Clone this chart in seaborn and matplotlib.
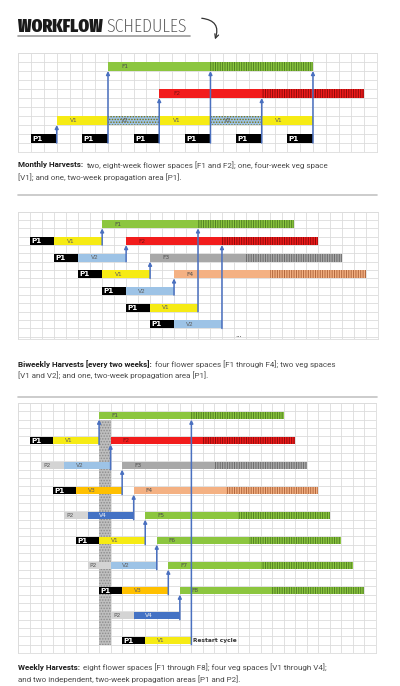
import os
import matplotlib
matplotlib.use("Agg")
import matplotlib.pyplot as plt
import seaborn as sns
from matplotlib import font_manager as fm
from matplotlib.patches import FancyArrowPatch
from matplotlib.lines import Line2D

# ---------------- data ----------------
FLOWER_WEEKS = 8
VEG_WEEKS = 4
PROP_WEEKS = 2

# monthly harvests
mon_flower = ["F1", "F2"]
mon_flower_row = [1, 4]
mon_flower_start = [7, 11]
mon_veg = ["V1", "V2", "V1", "V2", "V1"]
mon_veg_row = [7, 7, 7, 7, 7]
mon_veg_start = [3, 7, 11, 15, 19]
mon_veg_dotted = [False, True, False, True, False]
mon_prop = ["P1", "P1", "P1", "P1", "P1", "P1"]
mon_prop_row = [9, 9, 9, 9, 9, 9]
mon_prop_start = [1, 5, 9, 13, 17, 21]
mon_arrow_to = [7, 1, 4, 1, 4, 1]

# biweekly harvests
bi_flower = ["F1", "F2", "F3", "F4"]
bi_flower_row = [1, 3, 5, 7]
bi_flower_start = [7, 9, 11, 13]
bi_veg = ["V1", "V2", "V1", "V2", "V1", "V2"]
bi_veg_row = [3, 5, 7, 9, 11, 13]
bi_veg_start = [3, 5, 7, 9, 11, 13]
bi_prop = ["P1", "P1", "P1", "P1", "P1", "P1"]
bi_prop_start = [1, 3, 5, 7, 9, 11]
bi_arrow_to = [1, 3, 5, 7, 1, 3]

# weekly harvests
wk_flower = ["F1", "F2", "F3", "F4", "F5", "F6", "F7", "F8"]
wk_flower_row = [1, 4, 7, 10, 13, 16, 19, 22]
wk_flower_start = [7, 8, 9, 10, 11, 12, 13, 14]
wk_veg = ["V1", "V2", "V3", "V4", "V1", "V2", "V3", "V4", "V1"]
wk_veg_row = [4, 7, 10, 13, 16, 19, 22, 25, 28]
wk_veg_start = [3, 4, 5, 6, 7, 8, 9, 10, 11]
wk_prop = ["P1", "P2", "P1", "P2", "P1", "P2", "P1", "P2", "P1"]
wk_prop_start = [1, 2, 3, 4, 5, 6, 7, 8, 9]
wk_arrow_to = [1, 4, 7, 10, 13, 16, 19, 22, 1]
wk_hold_week = 7
wk_hold_rows = (2, 29)

cap_mon = ("Monthly Harvests:",
           "two, eight-week flower spaces [F1 and F2]; one, four-week veg space",
           "[V1]; and one, two-week propagation area [P1].")
cap_bi = ("Biweekly Harvests [every two weeks]:",
          "four flower spaces [F1 through F4]; two veg spaces",
          "[V1 and V2]; and one, two-week propagation area [P1].")
cap_wk = ("Weekly Harvests:",
          "eight flower spaces [F1 through F8]; four veg spaces [V1 through V4];",
          "and two independent, two-week propagation areas [P1 and P2].")

GREEN = "#8CC63F"
flower_color = {"F1": GREEN, "F2": "#F21C1C", "F3": "#A8A8A8", "F4": "#F4B183",
                "F5": GREEN, "F6": GREEN, "F7": GREEN, "F8": GREEN}
flower_hatch = {"F1": "#4F7F22", "F2": "#8E0A0A", "F3": "#6A6A6A", "F4": "#B0663C",
                "F5": "#4F7F22", "F6": "#4F7F22", "F7": "#4F7F22", "F8": "#4F7F22"}
veg_color = {"V1": "#F6EB14", "V2": "#9DC3E6", "V3": "#FFC000", "V4": "#4472C4"}
prop_color = {"P1": "#000000", "P2": "#D4D4D4"}
ARROW = "#4A70C0"
GRID = "#DCDCDC"

sns.set_theme(style="white")
plt.rcParams["hatch.linewidth"] = 0.7


def find_font(patterns, family="DejaVu Sans", weight="normal"):
    # first a proportional narrow face, then a mono one, then the plain family
    for allow_mono in (False, True):
        for pats in patterns:
            for f in fm.fontManager.ttflist:
                b = os.path.basename(f.fname).lower()
                if "mono" in b and not allow_mono:
                    continue
                if all(p in b for p in pats):
                    return fm.FontProperties(fname=f.fname)
    return fm.FontProperties(family=family, weight=weight)


heavy = find_font([("extracond", "black"), ("extracond", "extrabold"), ("cond", "black"),
                   ("narrow", "bold"), ("condensed-bold",), ("extracond", "bold")],
                  weight="bold")
thin = find_font([("extracond", "extralight"), ("extracond", "light"), ("cond", "light"),
                  ("narrow-regular",), ("condensed.ttf",)])
cap_reg = fm.FontProperties(family="Roboto")
cap_bold = fm.FontProperties(family="Roboto", weight="bold")

fig = plt.figure(figsize=(4, 6.86), dpi=100)
W, H = 400.0, 686.0
renderer = fig.canvas.get_renderer()


def px_box(x0, y0, x1, y1):
    return [x0 / W, 1 - y1 / H, (x1 - x0) / W, (y1 - y0) / H]


def text_width(text, fp, size):
    t = fig.text(0, 0, text, fontproperties=fp, fontsize=size)
    w = t.get_window_extent(renderer).width
    t.remove()
    return w


def setup_grid(ax, ncols, nrows):
    ax.set_xlim(0, ncols)
    ax.set_ylim(nrows, 0)
    ax.set_xticks(range(int(ncols) + 1))
    ax.set_yticks(range(int(nrows) + 1))
    ax.tick_params(length=0, labelbottom=False, labelleft=False)
    ax.grid(True, color=GRID, lw=0.6)
    ax.set_axisbelow(True)
    for s in ax.spines.values():
        s.set_color(GRID)
        s.set_linewidth(0.6)


def seg(ax, row, start, weeks, color, hatch=None, hcolor="none"):
    ax.barh(row + 0.5, weeks, left=start, height=0.95, color=color,
            hatch=hatch, edgecolor=hcolor, linewidth=0, zorder=3)


def label(ax, row, x, text, color="#5f5f5f", size=4.2, weight="normal", ha="center"):
    ax.text(x, row + 0.52, text, color=color, fontsize=size, fontweight=weight,
            ha=ha, va="center", zorder=6)


def draw_flowers(ax, names, rows, starts):
    for n, r, s in zip(names, rows, starts):
        seg(ax, r, s, FLOWER_WEEKS, flower_color[n])
        seg(ax, r, s + FLOWER_WEEKS, FLOWER_WEEKS, flower_color[n], "|" * 7, flower_hatch[n])
        label(ax, r, s + 1.35, n, color="#4d4d4d" if n != "F2" else "#7a1010")


def draw_veg(ax, names, rows, starts, dotted=None):
    dotted = dotted or [False] * len(names)
    for n, r, s, d in zip(names, rows, starts, dotted):
        if d:
            seg(ax, r, s, VEG_WEEKS, veg_color[n], "......", "#7a7410")
        else:
            seg(ax, r, s, VEG_WEEKS, veg_color[n])
        label(ax, r, s + 1.35, n, color="#f0f0f0" if n == "V4" else "#5f5f5f")


def draw_prop(ax, names, rows, starts):
    for n, r, s in zip(names, rows, starts):
        seg(ax, r, s, PROP_WEEKS, prop_color[n])
        if n == "P1":
            label(ax, r, s + 0.1, n, color="white", size=5.2, weight="bold", ha="left")
        else:
            label(ax, r, s + 0.2, n, color="#555555", size=4.2, ha="left")


def draw_arrows(ax, xs, from_rows, to_rows):
    for x, fr, to in zip(xs, from_rows, to_rows):
        ax.annotate("", xy=(x, to + 1), xytext=(x, fr + 1), zorder=7,
                    arrowprops=dict(arrowstyle="-|>", color=ARROW, lw=1.1,
                                    mutation_scale=5, shrinkA=0, shrinkB=0))


# ---- panel 1: monthly ----
ax1 = fig.add_axes(px_box(18.3, 53, 377, 152))
setup_grid(ax1, 28, 11)
draw_flowers(ax1, mon_flower, mon_flower_row, mon_flower_start)
draw_veg(ax1, mon_veg, mon_veg_row, mon_veg_start, mon_veg_dotted)
draw_prop(ax1, mon_prop, mon_prop_row, mon_prop_start)
draw_arrows(ax1, [s + PROP_WEEKS for s in mon_prop_start], mon_prop_row, mon_arrow_to)

# ---- panel 2: biweekly ----
ax2 = fig.add_axes(px_box(18.3, 211.7, 377.7, 339.3))
setup_grid(ax2, 30, 15.3)
draw_flowers(ax2, bi_flower, bi_flower_row, bi_flower_start)
draw_veg(ax2, bi_veg, bi_veg_row, [s + PROP_WEEKS for s in bi_prop_start])
draw_prop(ax2, bi_prop, bi_veg_row, bi_prop_start)
draw_arrows(ax2, [s + VEG_WEEKS for s in bi_veg_start], bi_veg_row, bi_arrow_to)
ax2.text(18.4, 14.75, "...", fontsize=5, color="#444444", ha="center", va="center")

# ---- panel 3: weekly ----
ax3 = fig.add_axes(px_box(18.3, 403, 376, 653))
setup_grid(ax3, 31, 30)
ax3.bar(wk_hold_week, wk_hold_rows[1] - wk_hold_rows[0], bottom=wk_hold_rows[0], width=1,
        align="edge", color="#BEBEBE", hatch="......", edgecolor="#8C8C8C", linewidth=0, zorder=2.5)
draw_flowers(ax3, wk_flower, wk_flower_row, wk_flower_start)
draw_veg(ax3, wk_veg, wk_veg_row, wk_veg_start)
draw_prop(ax3, wk_prop, wk_veg_row, wk_prop_start)
draw_arrows(ax3, [s + VEG_WEEKS for s in wk_veg_start], wk_veg_row, wk_arrow_to)
ax3.text(wk_veg_start[-1] + VEG_WEEKS + 0.1, wk_veg_row[-1] + 0.52, "Restart cycle",
         fontsize=4.2, fontweight="bold", color="#333333", ha="left", va="center", zorder=6)

# ---- title (sized to the width it takes in the original) ----
s_heavy = min(22, 20 * 85 / text_width("WORKFLOW", heavy, 20))
s_thin = min(22, 20 * 80 / text_width("SCHEDULES", thin, 20))
t1 = fig.text(18 / W, 1 - 32 / H, "WORKFLOW", fontproperties=heavy, fontsize=s_heavy,
              color="#1a1a1a", va="baseline")
bb = t1.get_window_extent(renderer)
fig.text((bb.x1 + 4) / W, 1 - 32 / H, "SCHEDULES", fontproperties=thin, fontsize=s_thin,
         color="#555555", va="baseline")
fig.add_artist(Line2D([18 / W, 190 / W], [1 - 36 / H, 1 - 36 / H], color="#9a9a9a", lw=1.2))
fig.add_artist(FancyArrowPatch((199 / W, 1 - 18 / H), (214 / W, 1 - 42 / H),
                               connectionstyle="arc3,rad=-0.7", arrowstyle="->",
                               mutation_scale=7, color="#333333", lw=0.9))

# ---- captions and separators ----
cap_size = 7 * 312 / (text_width(cap_mon[0], cap_bold, 7) + 3 + text_width(cap_mon[1], cap_reg, 7))


def caption(lines, y1, y2):
    bold, rest1, rest2 = lines
    tb = fig.text(18 / W, 1 - y1 / H, bold, fontproperties=cap_bold, fontsize=cap_size,
                  color="#1e1e1e", va="center")
    x = tb.get_window_extent(renderer).x1 + 3
    fig.text(x / W, 1 - y1 / H, rest1, fontproperties=cap_reg, fontsize=cap_size,
             color="#4a4a4a", va="center")
    fig.text(18 / W, 1 - y2 / H, rest2, fontproperties=cap_reg, fontsize=cap_size,
             color="#4a4a4a", va="center")


caption(cap_mon, 165, 177)
caption(cap_bi, 364, 375.5)
caption(cap_wk, 667.5, 679)

for y in [195, 397]:
    fig.add_artist(Line2D([18 / W, 377 / W], [1 - y / H, 1 - y / H], color="#c4c4c4", lw=1.2))

fig.savefig("out.png", dpi=100, facecolor="white")
